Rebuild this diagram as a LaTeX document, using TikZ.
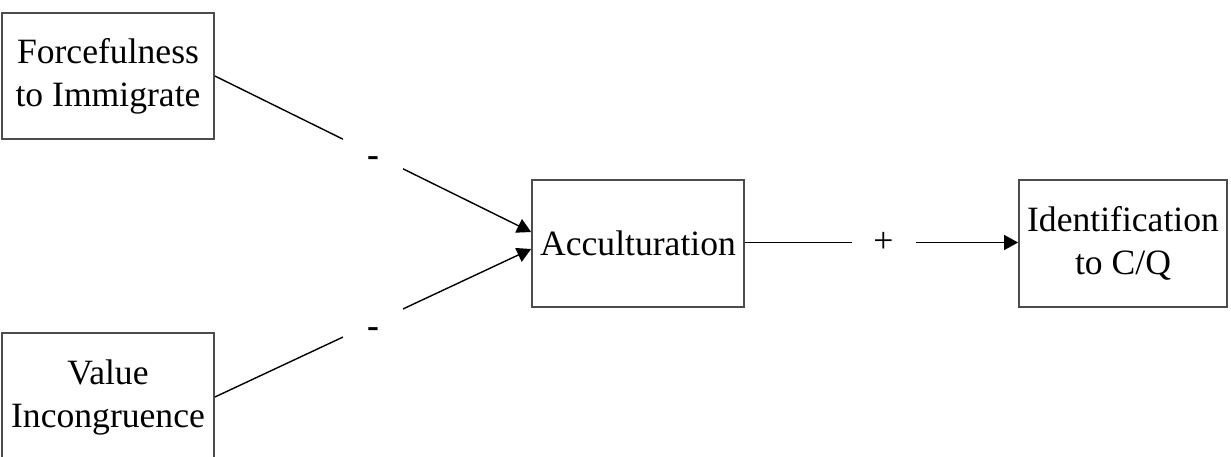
\documentclass[tikz,border=0pt]{standalone}
\usepackage{fontspec}
\setmainfont{Liberation Serif}
\usetikzlibrary{arrows.meta}

\tikzset{
  box/.style={draw=black!70, line width=0.9pt, align=center, inner sep=0pt},
  sign/.style={fill=white, inner sep=0pt, minimum width=30pt, minimum height=17pt},
  link/.style={line width=0.7pt},
  arr/.style={link, -{Triangle[length=7pt,width=7.5pt]}}
}
\newcommand{\minussign}[1]{\smash{\raisebox{#1}{\textbf{-}}}}

\begin{document}
\begin{tikzpicture}[font=\fontsize{17.8}{21.5}\selectfont, x=0.5pt, y=-0.5pt]
  \path[use as bounding box, clip] (0,0) rectangle (1231,456);
  % блоки
  \node[box, minimum width=106pt, minimum height=63pt] (force) at (108,76) {Forcefulness\\to Immigrate};
  \node[box, minimum width=106pt, minimum height=64pt] (value) at (108,397) {Value\\Incongruence};
  \node[box, minimum width=106pt, minimum height=63.5pt] (accult) at (638,243.5) {Acculturation};
  \node[box, minimum width=104pt, minimum height=63.5pt] (ident) at (1123,243.5) {Identification\\to C/Q};
  % связи
  \draw[arr] (force.east) -- node[sign] {\minussign{-6pt}} ([yshift=5.75pt]accult.west);
  \draw[arr] (value.east) -- node[sign] {\minussign{-7pt}} ([yshift=-2.75pt]accult.west);
  \draw[arr] ([yshift=0.5pt]accult.east) -- node[sign, minimum width=32pt, xshift=1pt] {+} ([yshift=0.5pt]ident.west);
\end{tikzpicture}
\end{document}
